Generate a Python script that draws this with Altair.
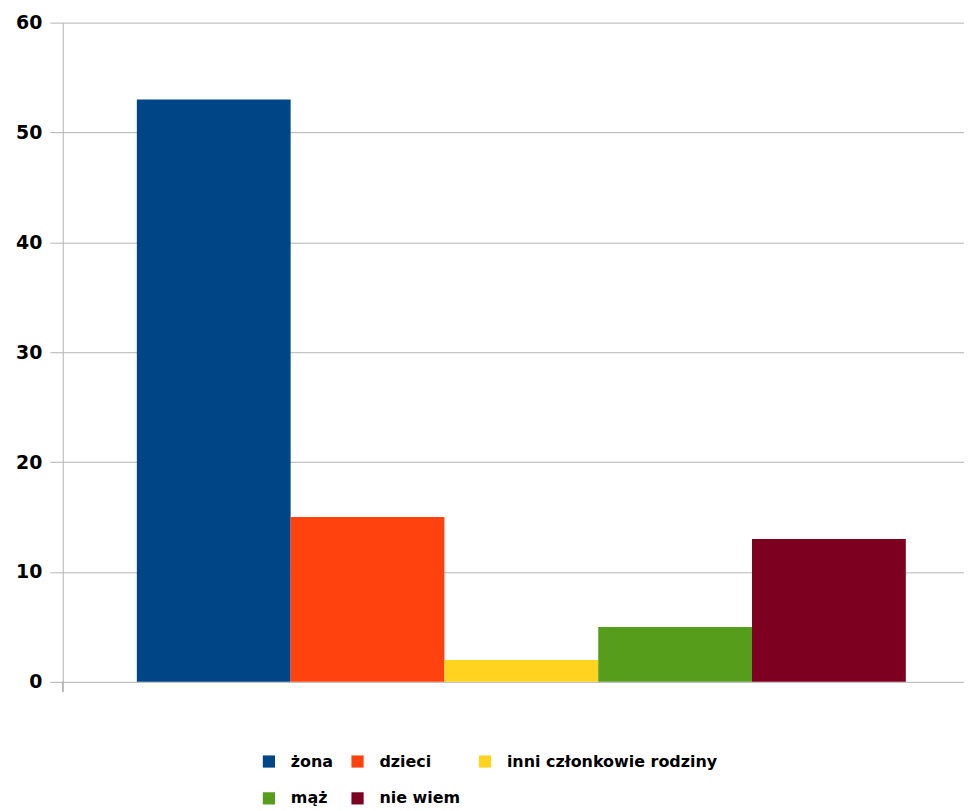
import altair as alt
import pandas as pd

series = ["żona", "dzieci", "inni członkowie rodziny", "mąż", "nie wiem"]
values = [53, 15, 2, 5, 13]
colors = ["#004586", "#ff420e", "#ffd320", "#579d1c", "#7e0021"]
y_ticks = [0, 10, 20, 30, 40, 50, 60]

df = pd.DataFrame({"series": series, "value": values})

grid_col = "#b3b3b3"

bars = alt.Chart(df).mark_bar().encode(
    x=alt.X("series:N", sort=series,
            scale=alt.Scale(domain=series, paddingInner=0, paddingOuter=0.43, align=0.56),
            axis=None),
    y=alt.Y("value:Q", scale=alt.Scale(domain=[0, 60], nice=False),
            axis=alt.Axis(values=y_ticks, title=None, grid=True, gridColor=grid_col,
                          domainColor=grid_col, tickColor=grid_col, tickSize=13,
                          labelPadding=8, labelFont="DejaVu Sans", labelFontWeight="bold",
                          labelFontSize=19, labelColor="#000000")),
    color=alt.Color("series:N", sort=series,
                    scale=alt.Scale(domain=series, range=colors),
                    legend=alt.Legend(title=None, orient="none", legendX=199, legendY=734,
                                      direction="horizontal",
                                      columns=3, symbolType="square", symbolSize=150,
                                      symbolStrokeWidth=0, labelFont="DejaVu Sans",
                                      labelFontWeight="bold", labelFontSize=16,
                                      labelLimit=400,
                                      labelColor="#000000", rowPadding=21,
                                      columnPadding=16, labelOffset=14)),
)

tick = alt.Chart(df).mark_rule(color=grid_col).encode(
    x=alt.value(0), y=alt.value(662), y2=alt.value(672)
)

chart = alt.layer(bars, tick).properties(
    width=905, height=662,
    padding={"left": 55, "top": 13, "right": 0, "bottom": 126},
    autosize=alt.AutoSizeParams(type="none"),
).configure_view(stroke=None)

chart.save("out.html", embed_options={"renderer": "svg", "actions": False})
